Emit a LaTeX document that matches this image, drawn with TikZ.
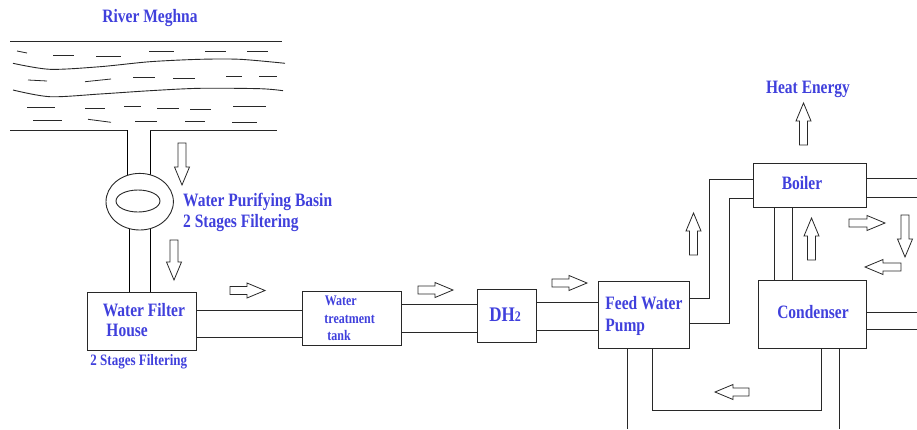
\documentclass[tikz,border=0pt]{standalone}
\usepackage{fontspec}
\setmainfont{Liberation Serif}
\usetikzlibrary{shapes.geometric,backgrounds}
\definecolor{lbl}{RGB}{64,64,220}
\definecolor{ln}{RGB}{40,40,40}
\newcommand{\vst}[1]{\scalebox{1}[1.22]{#1}}
\begin{document}
\begin{tikzpicture}[x=1pt,y=-1pt, line width=0.9pt, color=ln,
 box/.style={draw=ln, rectangle, anchor=north west, inner sep=0pt},
 lab/.style={text=lbl, font=\bfseries\fontsize{15.5}{18}\selectfont, inner sep=0pt},
 smalllab/.style={text=lbl, font=\bfseries\fontsize{13}{15}\selectfont, inner sep=0pt},
 tanklab/.style={text=lbl, font=\bfseries\fontsize{12}{14}\selectfont, inner sep=0pt},
 pics/barrow/.style={code={\draw[ln, line width=0.8pt, fill=white] (0,-4) -- ({#1-18},-4) -- ({#1-18},-7.5) -- (#1,0) -- ({#1-18},7.5) -- ({#1-18},4) -- (0,4) -- cycle;}}]
\useasboundingbox (0,0) rectangle (917,429);

% river
\node[lab, anchor=base] (river) at (150,22) {\vst{River Meghna}};
\draw (10,41) -- (282,41);
\coordinate (rvL) at (127,130);
\coordinate (rvR) at (150,130);
\draw (10,130) -- (rvL);
\draw (rvR) -- (277,130);
\draw plot[smooth] coordinates {(13,63.3) (50,69.3) (100,66.7) (150,61.7) (200,59.3) (240,59.3) (285,63.3)};
\draw plot[smooth] coordinates {(13,90) (50,96.7) (100,94) (150,90.7) (200,88.3) (260,88.7) (283,90.7)};
\begin{scope}[line width=0.8pt]
\draw (17,51) -- (27,53);
\draw (53,55.7) -- (74,55.7);
\draw (96,56.7) -- (121,56.7);
\draw (149,51.7) -- (174,51.7);
\draw (205,51.7) -- (226,51.7);
\draw (247,51.7) -- (268,51.7);
\draw (28,80) -- (47,81);
\draw (85,81.7) -- (111,79);
\draw (133,77.7) -- (155,77.7);
\draw (173,78.3) -- (195,78.3);
\draw (226,76.7) -- (242,76.7);
\draw (259,76.7) -- (277,76.7);
\draw (27,107.5) -- (55,107.5);
\draw (85,108.3) -- (105,108.3);
\draw (124,106.7) -- (141,106.7);
\draw (157,108.3) -- (179,108.3);
\draw (190,109.3) -- (211,109.3);
\draw (233,106.7) -- (266,106.7);
\draw (33,120.7) -- (62,120.7);
\draw (88,119.3) -- (111,122.3);
\draw (135,121.7) -- (157,121.7);
\draw (185,121.7) -- (205,121.7);
\draw (232,122.7) -- (257,122.7);
\end{scope}

% basin
\node[ellipse, draw=ln, fill=white, minimum width=67.4pt, minimum height=56.6pt, inner sep=0pt] (basin) at (139.7,201.7) {};
\node[ellipse, draw=ln, minimum width=44pt, minimum height=22pt, inner sep=0pt] (basinin) at (138,201) {};
\node[lab, anchor=base west] (basinlab) at (182.7,206) {\vst{Water Purifying Basin}};
\node[lab, anchor=base west] (basinlab2) at (182.7,227) {\vst{2 Stages Filtering}};

% boxes
\node[box, minimum width=109pt, minimum height=58pt] (filter) at (87,292) {};
\node[box, minimum width=99pt, minimum height=54pt] (tank) at (302,291) {};
\node[box, minimum width=59pt, minimum height=53pt] (dh) at (477,289) {};
\node[box, minimum width=91pt, minimum height=67pt] (pump) at (598,281) {};
\node[box, minimum width=113pt, minimum height=44pt] (boiler) at (753,163) {};
\node[box, minimum width=108pt, minimum height=68pt] (cond) at (758,280) {};

\begin{scope}[on background layer]
\draw (rvL) -- (rvL |- basin.center);
\draw (rvR) -- (rvR |- basin.center);
\draw (basin.center -| 129,0) -- (filter.north -| 129,0);
\draw (basin.center -| 150,0) -- (filter.north -| 150,0);
\end{scope}

% labels in boxes
\node[lab, anchor=base west] (filterlab1) at (102.3,316.7) {\vst{Water Filter}};
\node[lab, anchor=base west] (filterlab2) at (106,336.7) {\vst{House}};
\node[smalllab, anchor=base west] (filterlab3) at (90,365) {\vst{2 Stages Filtering}};
\node[tanklab, anchor=base west] (tanklab1) at (324.3,305) {\vst{Water}};
\node[tanklab, anchor=base west] (tanklab2) at (324,323.3) {\vst{treatment}};
\node[tanklab, anchor=base west] (tanklab3) at (327,340) {\vst{tank}};
\node[lab, anchor=base west] (dhlab) at (489,321.7) {\vst{\fontsize{17}{19}\selectfont DH{\fontsize{12}{13}\selectfont 2}}};
\node[lab, anchor=base west] (pumplab1) at (605,309.3) {\vst{Feed Water}};
\node[lab, anchor=base west] (pumplab2) at (605,331.7) {\vst{Pump}};
\node[lab, anchor=base] (boilerlab) at (802,189) {\vst{Boiler}};
\node[lab, anchor=base] (condlab) at (813,318.3) {\vst{Condenser}};
\node[lab, anchor=base] (heatlab) at (808,93.3) {\vst{Heat Energy}};

% pipes
\draw (filter.east |- 0,310.7) -- (tank.west |- 0,310.7);
\draw (filter.east |- 0,337) -- (tank.west |- 0,337);
\draw (tank.east |- 0,304) -- (dh.west |- 0,304);
\draw (tank.east |- 0,332) -- (dh.west |- 0,332);
\draw (dh.east |- 0,302.5) -- (pump.west |- 0,302.5);
\draw (dh.east |- 0,330) -- (pump.west |- 0,330);
\draw (pump.east |- 0,298) -- (709,298) -- (709,179) -- (boiler.west |- 0,179);
\draw (pump.east |- 0,323) -- (729,323) -- (729,198) -- (boiler.west |- 0,198);
\draw (boiler.south -| 774,0) -- (cond.north -| 774,0);
\draw (boiler.south -| 792,0) -- (cond.north -| 792,0);
\coordinate (bo1) at (917,178);
\coordinate (bo2) at (917,197);
\draw (boiler.east |- bo1) -- (bo1);
\draw (boiler.east |- bo2) -- (bo2);
\coordinate (co1) at (917,312);
\coordinate (co2) at (917,329);
\draw (cond.east |- co1) -- (co1);
\draw (cond.east |- co2) -- (co2);
\coordinate (pb1) at (627,429);
\coordinate (cb1) at (839,429);
\draw (pump.south -| pb1) -- (pb1);
\draw (pump.south -| 652,0) -- (652,410) -- (821,410) -- (cond.south -| 821,0);
\draw (cond.south -| cb1) -- (cb1);

% block arrows
\pic[rotate=-90] at (182,143) {barrow=42};
\pic[rotate=-90] at (174,240) {barrow=40};
\pic at (230,290.5) {barrow=35};
\pic at (418,290) {barrow=35};
\pic at (552,283) {barrow=35};
\pic at (849,223) {barrow=36};
\pic[rotate=180] at (749,392) {barrow=34};
\pic[rotate=180] at (901,267) {barrow=36};
\pic[rotate=90] at (693.5,255) {barrow=42};
\pic[rotate=90] at (811.5,260) {barrow=42};
\pic[rotate=90] at (803.5,145) {barrow=42};
\pic[rotate=-90] at (905,215) {barrow=42};
\end{tikzpicture}
\end{document}
